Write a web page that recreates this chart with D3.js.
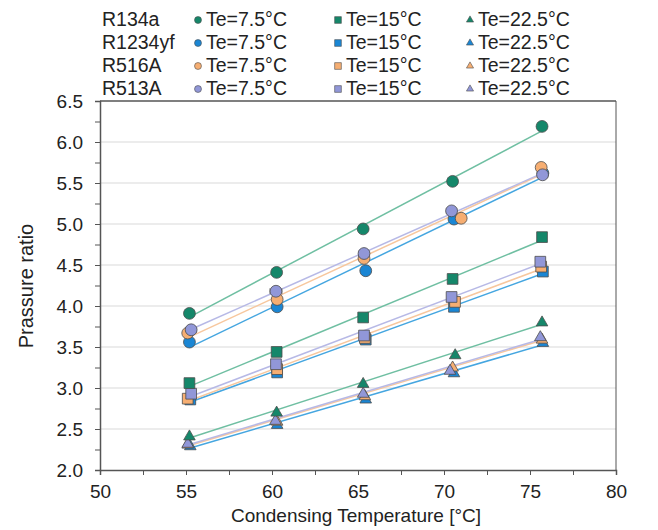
<!DOCTYPE html>
<html>
<head>
<meta charset="utf-8">
<script src="https://cdn.jsdelivr.net/npm/d3@7"></script>
<style>
  body { margin: 0; background: #fff; }
  text { font-family: "Liberation Sans", Arial, sans-serif; fill: #222; }
</style>
</head>
<body>
<svg id="chart" width="658" height="530"></svg>
<script>
// Data
const refrigerants = ["R134a", "R1234yf", "R516A", "R513A"];
const evapTemps = ["Te=7.5°C", "Te=15°C", "Te=22.5°C"];
const shapes = ["circle", "square", "triangle"];

// condensing temperatures (per Te row), pressure ratios (per Te row)
const tcR134a = [[55.2, 60.27, 65.3, 70.5, 75.7], [55.2, 60.27, 65.3, 70.5, 75.7], [55.2, 60.27, 65.3, 70.65, 75.7]];
const prR134a = [[3.91, 4.41, 4.94, 5.52, 6.19], [3.06, 3.44, 3.86, 4.33, 4.84], [2.42, 2.71, 3.06, 3.41, 3.81]];
const tcR1234yf = [[55.2, 60.3, 65.45, 70.58, 75.75], [55.25, 60.3, 65.45, 70.58, 75.75], [55.25, 60.3, 65.45, 70.58, 75.75]];
const prR1234yf = [[3.56, 3.99, 4.43, 5.06, 5.62], [2.86, 3.19, 3.59, 3.99, 4.42], [2.30, 2.56, 2.87, 3.19, 3.56]];
const tcR516A = [[55.1, 60.3, 65.35, 71.0, 75.65], [55.1, 60.3, 65.4, 70.64, 75.65], [55.1, 60.3, 65.4, 70.5, 75.7]];
const prR516A = [[3.67, 4.08, 4.58, 5.07, 5.69], [2.87, 3.23, 3.61, 4.05, 4.48], [2.32, 2.60, 2.91, 3.26, 3.60]];
const tcR513A = [[55.3, 60.23, 65.35, 70.44, 75.73], [55.3, 60.23, 65.35, 70.44, 75.6], [55.1, 60.2, 65.3, 70.35, 75.6]];
const prR513A = [[3.71, 4.18, 4.64, 5.16, 5.60], [2.93, 3.29, 3.64, 4.11, 4.54], [2.33, 2.61, 2.94, 3.22, 3.63]];

// small error bars seen on some points
const errPrR134a = [0.05, 0.05, 0.03, 0.05, 0.05];
const errTcR513A = [0.3, 0.35, 0.3, 0.3, 0.3];

const fillColors = ["#15876a", "#1a86d4", "#f6ae72", "#9197d8"];
const lineColors = ["#6fbfa2", "#45a6e0", "#f7c79e", "#b7b9e6"];

const xTicks = [50, 55, 60, 65, 70, 75, 80];
const yTicks = [2.0, 2.5, 3.0, 3.5, 4.0, 4.5, 5.0, 5.5, 6.0, 6.5];

const allTc = [tcR134a, tcR1234yf, tcR516A, tcR513A];
const allPr = [prR134a, prR1234yf, prR516A, prR513A];

const svg = d3.select("#chart");
const mLeft = 100, mRight = 616, mTop = 101, mBottom = 470;

const x = d3.scaleLinear().domain([50, 80]).range([mLeft, mRight]);
const y = d3.scaleLinear().domain([2.0, 6.5]).range([mBottom, mTop]);

// gridlines
svg.append("g").selectAll("line").data(yTicks.slice(1, -1)).join("line")
    .attr("x1", mLeft).attr("x2", mRight)
    .attr("y1", d => y(d)).attr("y2", d => y(d))
    .attr("stroke", "#d9d9d9").attr("stroke-width", 1);

// frame (top and right)
svg.append("line").attr("x1", mLeft).attr("x2", mRight).attr("y1", mTop).attr("y2", mTop)
    .attr("stroke", "#555").attr("stroke-width", 1.5);
svg.append("line").attr("x1", mRight).attr("x2", mRight).attr("y1", mTop).attr("y2", mBottom)
    .attr("stroke", "#555").attr("stroke-width", 1);

// axes
const xAxis = d3.axisBottom(x).tickValues(d3.range(50, 80.1, 2.5)).tickSize(5)
    .tickFormat(d => xTicks.includes(d) ? d : "");
const gx = svg.append("g").attr("transform", `translate(0,${mBottom})`).call(xAxis);
gx.selectAll("text").attr("font-size", 19).attr("y", 14.5).attr("fill", "#222");

const yAxis = d3.axisLeft(y).tickValues(d3.range(2.0, 6.51, 0.25)).tickSize(5)
    .tickFormat(d => Math.abs(d * 2 - Math.round(d * 2)) < 1e-6 ? d3.format(".1f")(d) : "");
const gy = svg.append("g").attr("transform", `translate(${mLeft},0)`).call(yAxis);
gy.selectAll("text").attr("font-size", 19).attr("x", -17).attr("fill", "#222");

[gx, gy].forEach(g => {
    g.select(".domain").attr("stroke", "#555").attr("stroke-width", 1.5);
    g.selectAll(".tick line").attr("stroke", "#555");
});

// axis titles
svg.append("text").attr("x", 356).attr("y", 522)
    .attr("text-anchor", "middle").attr("font-size", 19)
    .text("Condensing Temperature [°C]");
svg.append("text").attr("transform", `translate(33,286) rotate(-90)`)
    .attr("text-anchor", "middle").attr("font-size", 20)
    .text("Prassure ratio");

// marker drawing helper
const symbolFor = (shape, size) => {
    const type = shape === "circle" ? d3.symbolCircle : shape === "square" ? d3.symbolSquare : d3.symbolTriangle;
    return d3.symbol().type(type).size(size)();
};

// linear fit lines
const plot = svg.append("g");
const lineLayer = plot.append("g");
const errLayer = plot.append("g");
const markLayer = plot.append("g");

refrigerants.forEach((ref, r) => {
    evapTemps.forEach((te, t) => {
        const xs = allTc[r][t], ys = allPr[r][t];
        const mx = d3.mean(xs), my = d3.mean(ys);
        const slope = d3.sum(xs, (v, i) => (v - mx) * (ys[i] - my)) / d3.sum(xs, v => (v - mx) ** 2);
        const x0 = d3.min(xs), x1 = d3.max(xs);
        lineLayer.append("line")
            .attr("x1", x(x0)).attr("y1", y(my + slope * (x0 - mx)))
            .attr("x2", x(x1)).attr("y2", y(my + slope * (x1 - mx)))
            .attr("stroke", lineColors[r]).attr("stroke-width", 1.5);
    });
});

// error bars
prR134a[0].forEach((v, i) => {
    const cx = x(tcR134a[0][i]);
    errLayer.append("line").attr("x1", cx).attr("x2", cx)
        .attr("y1", y(v - errPrR134a[i])).attr("y2", y(v + errPrR134a[i]))
        .attr("stroke", "#888").attr("stroke-width", 1);
    [v - errPrR134a[i], v + errPrR134a[i]].forEach(e => errLayer.append("line")
        .attr("x1", cx - 3).attr("x2", cx + 3).attr("y1", y(e)).attr("y2", y(e))
        .attr("stroke", "#888").attr("stroke-width", 1));
});
prR513A[0].forEach((v, i) => {
    const cy = y(v), c = tcR513A[0][i];
    errLayer.append("line").attr("x1", x(c - errTcR513A[i])).attr("x2", x(c + errTcR513A[i]))
        .attr("y1", cy).attr("y2", cy).attr("stroke", "#888").attr("stroke-width", 1);
    [c - errTcR513A[i], c + errTcR513A[i]].forEach(e => errLayer.append("line")
        .attr("x1", x(e)).attr("x2", x(e)).attr("y1", cy - 3).attr("y2", cy + 3)
        .attr("stroke", "#888").attr("stroke-width", 1));
});

// markers (R134a drawn last)
const markerSize = [110, 115, 58];
evapTemps.forEach((te, t) => {
    [1, 2, 3, 0].forEach(r => {
        allTc[r][t].forEach((tc, i) => {
            const yOff = shapes[t] === "triangle" ? 1 : 0;
            markLayer.append("path")
                .attr("d", symbolFor(shapes[t], markerSize[t]))
                .attr("transform", `translate(${x(tc)},${y(allPr[r][t][i]) + yOff})`)
                .attr("fill", fillColors[r])
                .attr("stroke", "#4d4d4d").attr("stroke-width", 0.8);
        });
    });
});

// legend
const legend = svg.append("g");
const rowY = [19, 42, 65, 88];
const colMarkX = [198, 338, 470];
const legendSize = [38, 45, 22];
refrigerants.forEach((ref, r) => {
    legend.append("text").attr("x", 102).attr("y", rowY[r]).attr("dy", "0.36em")
        .attr("font-size", 19.5).text(ref);
    evapTemps.forEach((te, t) => {
        legend.append("path")
            .attr("d", symbolFor(shapes[t], legendSize[t]))
            .attr("transform", `translate(${colMarkX[t]},${rowY[r] + 1})`)
            .attr("fill", fillColors[r]).attr("stroke", "#4d4d4d").attr("stroke-width", 0.6);
        legend.append("text").attr("x", colMarkX[t] + 8).attr("y", rowY[r]).attr("dy", "0.36em")
            .attr("font-size", 19.5).text(te);
    });
});
</script>
</body>
</html>
